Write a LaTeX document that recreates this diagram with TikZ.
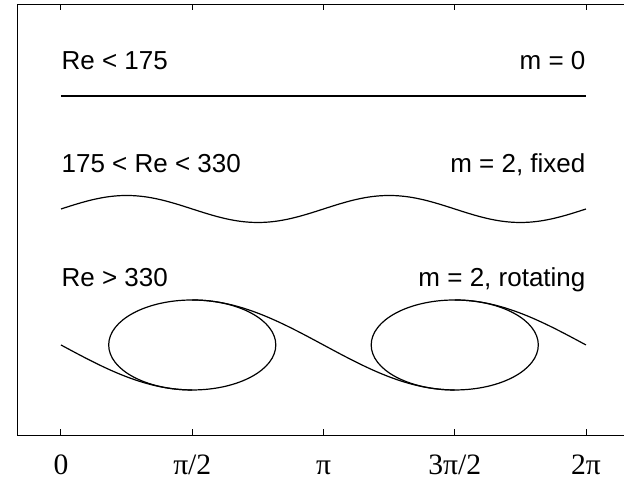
\documentclass[tikz,border=0pt]{standalone}
\usepackage{fontspec}
\setmainfont{Liberation Sans}
\newfontfamily\axisfont{Liberation Serif}

\begin{document}
\begin{tikzpicture}[x=41.78bp, y=-0.5bp, line width=0.6bp,
    lbl/.style={inner sep=0pt, font=\fontsize{13bp}{15bp}\selectfont},
    ticklbl/.style={inner sep=0pt, anchor=base, font=\axisfont\fontsize{14.8bp}{17bp}\selectfont}]
        \useasboundingbox (-0.730,0) rectangle (6.738,479);
        % frame, open on the right
        \draw[line width=0.5bp] (6.738,4.5) -- (-0.515,4.5) -- (-0.515,435.5) -- (6.738,435.5);
        \foreach \t/\lab in {0/0, 1/{π/2}, 2/π, 3/{3π/2}, 4/{2π}} {
            \draw[line width=0.5bp] ({\t*pi/2},4.5) -- ++(0,6);
            \draw[line width=0.5bp] ({\t*pi/2},435.5) -- ++(0,-6);
            \node[ticklbl] (t\t) at ({\t*pi/2},475) {\lab};
        }
        % m = 0
        \node[lbl, anchor=base west] (re1) at (0,70) {Re < 175};
        \node[lbl, anchor=base east] (m1) at (2*pi,70) {m = 0};
        \draw[line width=1.2bp] (0,96) -- (2*pi,96);
        % m = 2, fixed
        \node[lbl, anchor=base west] (re2) at (0,173) {175 < Re < 330};
        \node[lbl, anchor=base east] (m2) at (2*pi,173) {m = 2, fixed};
        \draw[domain=0:2*pi, samples=100, smooth] plot (\x, {209-13.5*sin(2*\x r)});
        % m = 2, rotating
        \node[lbl, anchor=base west] (re3) at (0,286.5) {Re > 330};
        \node[lbl, anchor=base east] (m3) at (2*pi,286.5) {m = 2, rotating};
        \draw[domain=0:pi/2, samples=40, smooth] plot (\x, {345+45*sin(\x r)});
        \draw[domain=pi/2:3*pi/2, samples=80, smooth] plot (\x, {345-45*sin(\x r)});
        \draw[domain=3*pi/2:2*pi, samples=40, smooth] plot (\x, {345+45*sin(\x r)});
        \draw (pi/2,345) ellipse [x radius=1, y radius=45];
        \draw (3*pi/2,345) ellipse [x radius=1, y radius=45];
    \end{tikzpicture}
\end{document}
